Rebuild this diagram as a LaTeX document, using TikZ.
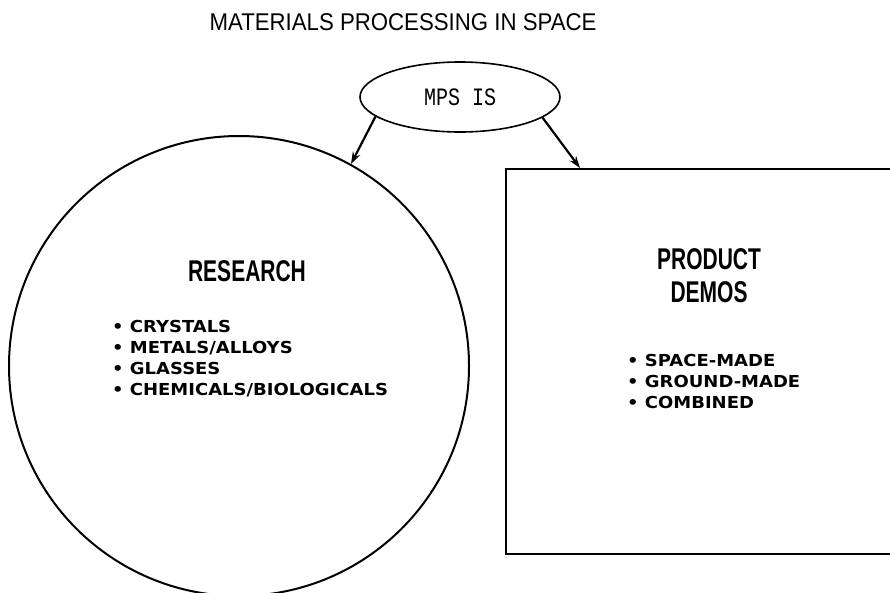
\documentclass[tikz,border=0pt]{standalone}
\usepackage{fontspec}
\setmainfont{Liberation Sans}
\newfontfamily\monofnt{Liberation Mono}
\newfontfamily\boldfnt{DejaVu Sans}[BoldFont={DejaVu Sans Bold}]
\usetikzlibrary{shapes.geometric,arrows.meta}
\begin{document}
\begin{tikzpicture}[x=1pt,y=-1pt,
  outline/.style={draw=black,line width=2pt},
  conn/.style={line width=2.2pt,-{Stealth[length=12pt,width=8pt]}},
  headtxt/.style={inner sep=0pt,align=center,font=\bfseries\fontsize{30}{33}\selectfont},
  listtxt/.style={inner sep=0pt,align=left,anchor=west,font=\boldfnt\bfseries\fontsize{16.5}{21}\selectfont}]
\useasboundingbox (0,0) rectangle (890,592);
\clip (0,0) rectangle (890,592);
\fill[white] (0,0) rectangle (890,592);
% title
\node[inner sep=0pt,font=\fontsize{22}{22}\selectfont] (title) at (403,22) {\scalebox{1.01}[1.1]{MATERIALS PROCESSING IN SPACE}};
% top ellipse
\node[ellipse,outline,line width=1.6pt,minimum width=200pt,minimum height=70pt,inner sep=0pt,
  font=\monofnt\fontsize{20}{20}\selectfont] (mps) at (460,97) {\scalebox{1}[1.25]{MPS IS}};
% research circle
\node[circle,outline,minimum size=460pt,inner sep=0pt] (research) at (239,366) {};
% product box
\node[rectangle,outline,minimum width=400pt,minimum height=385pt,inner sep=0pt,anchor=north west] (product) at (505,168) {};
\coordinate (boxhit) at ([xshift=75pt]product.north west);
% arrows
\draw[conn] (mps.193) -- (research.61);
\draw[conn] (mps.-14) -- (boxhit);
% texts
\node[headtxt] (rtitle) at (247,271) {\scalebox{0.7}[1]{RESEARCH}};
\node[headtxt] (ptitle) at (709,275.5) {\scalebox{0.7}[1]{PRODUCT}\\[0pt]\scalebox{0.7}[1]{DEMOS}};
\node[listtxt] (rlist) at (112,358.5) {\scalebox{1.09}[1]{• CRYSTALS}\\\scalebox{1.09}[1]{• METALS/ALLOYS}\\\scalebox{1.09}[1]{• GLASSES}\\\scalebox{1.09}[1]{• CHEMICALS/BIOLOGICALS}};
\node[listtxt] (plist) at (627,381.5) {\scalebox{1.09}[1]{• SPACE-MADE}\\\scalebox{1.09}[1]{• GROUND-MADE}\\\scalebox{1.09}[1]{• COMBINED}};
\end{tikzpicture}
\end{document}
